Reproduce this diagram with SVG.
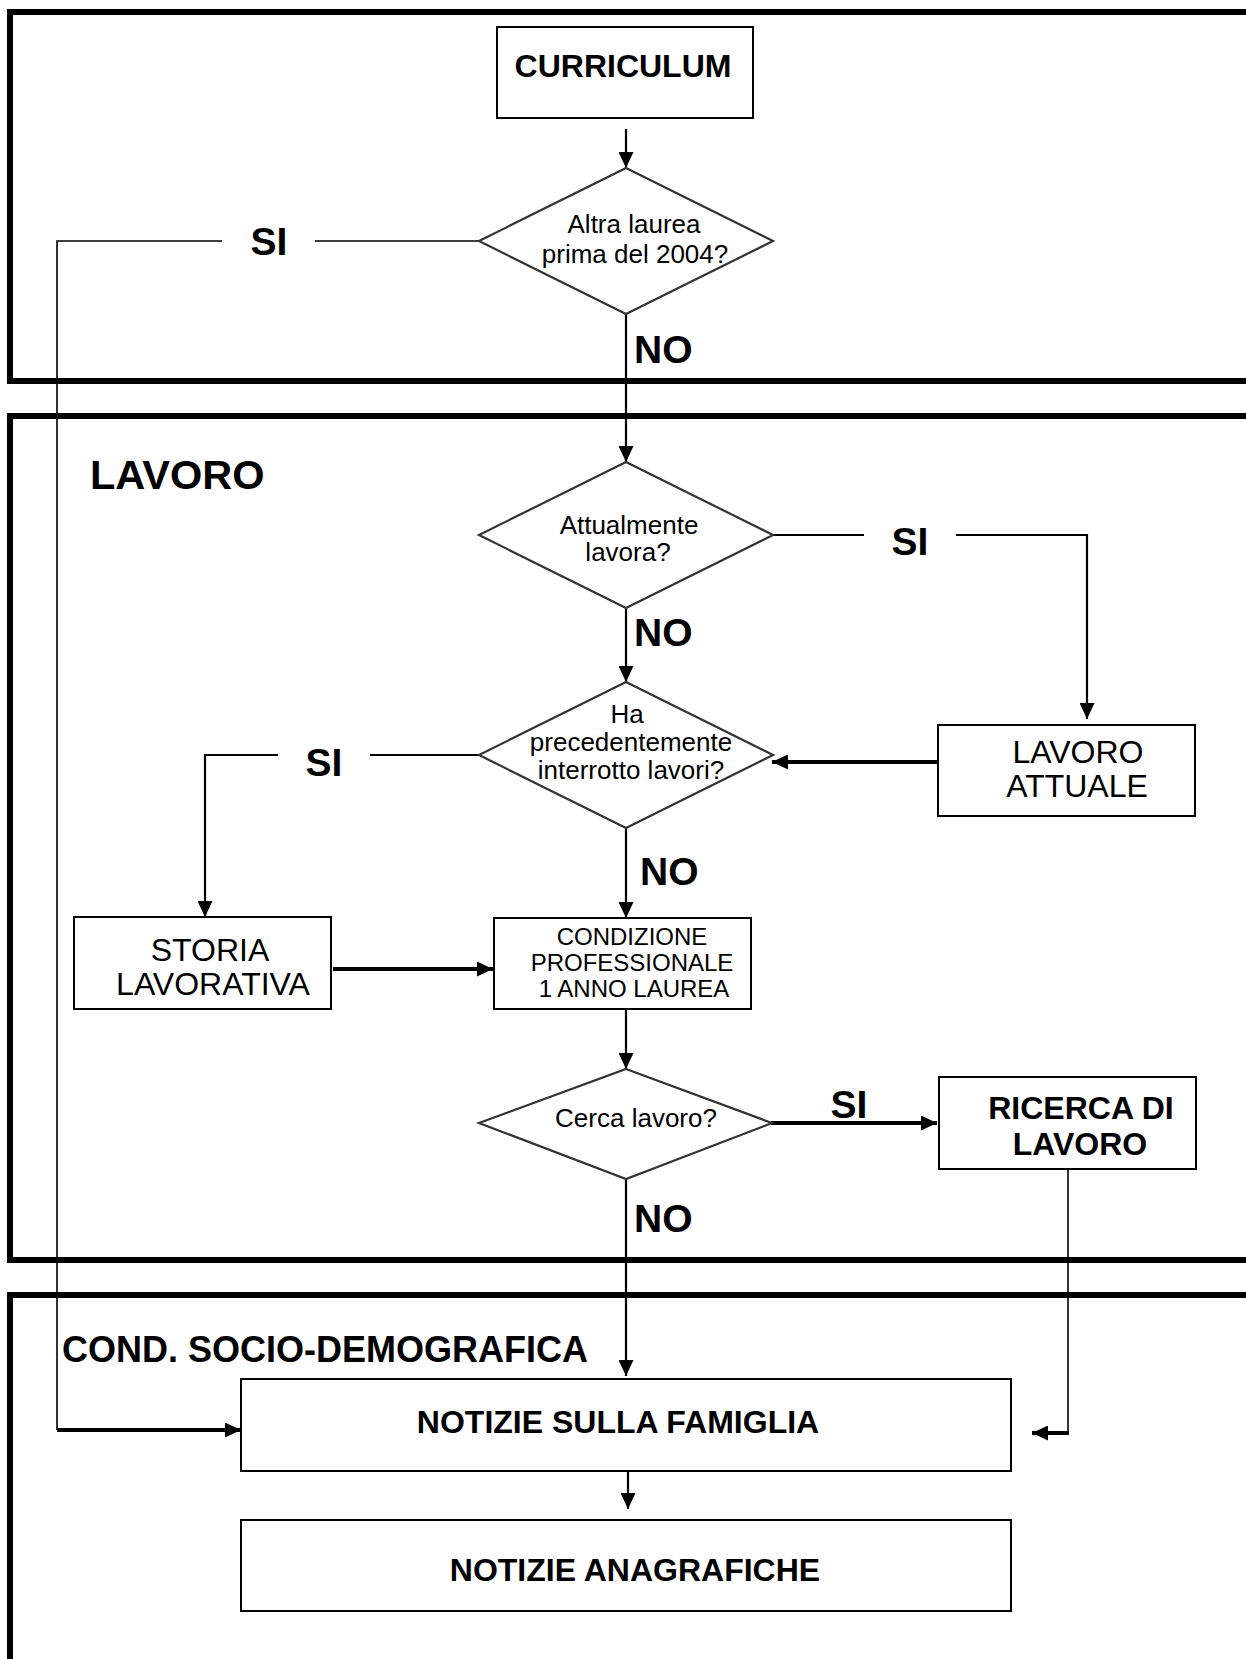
<svg xmlns="http://www.w3.org/2000/svg" width="1246" height="1659" viewBox="0 0 1246 1659">
<style>
text{font-family:"Liberation Sans",Arial,sans-serif;fill:#000}
.b{font-weight:bold}
.box{fill:#fff;stroke:#000;stroke-width:2}
.dia{fill:#fff;stroke:#333;stroke-width:2.2}
.panel{fill:none;stroke:#000;stroke-width:6}
.ln{fill:none;stroke:#000;stroke-width:2.2}
.thin{fill:none;stroke:#000;stroke-width:1.6}
.thick{fill:none;stroke:#000;stroke-width:4}
.lab{font-size:39px;font-weight:bold}
.q{font-size:26px;text-anchor:middle}
.t32{font-size:32px;text-anchor:middle}
.t24{font-size:24px;text-anchor:middle}
</style>
<defs>
<marker id="ah" markerUnits="userSpaceOnUse" markerWidth="16" markerHeight="15" refX="16" refY="7.5" orient="auto">
<path d="M0,0 L16,7.5 L0,15 z" fill="#000"/>
</marker>
</defs>
<g id="panels">
<path class="panel" d="M1246,12 H10 V381 H1246"/>
<path class="panel" d="M1246,416 H10 V1260 H1246"/>
<path class="panel" d="M1246,1295 H10 V1659"/>
<text class="b" x="90" y="489" font-size="41.5">LAVORO</text>
<text class="b" x="62" y="1362" font-size="36">COND. SOCIO-DEMOGRAFICA</text>
</g>
<g id="connectors">
<line class="ln" x1="626" y1="129" x2="626" y2="168" marker-end="url(#ah)"/>
<line class="ln" x1="626" y1="314" x2="626" y2="462" marker-end="url(#ah)"/>
<path class="thin" d="M479,241 H315"/>
<path class="thin" d="M222,241 H57 V1430"/>
<path class="thick" d="M57,1430 H241" marker-end="url(#ah)"/>
<path class="ln" d="M773,535 H864"/>
<path class="ln" d="M956,535 H1087 V719" marker-end="url(#ah)"/>
<line class="thick" x1="938" y1="762" x2="772" y2="762" marker-end="url(#ah)"/>
<line class="ln" x1="626" y1="608" x2="626" y2="682" marker-end="url(#ah)"/>
<path class="ln" d="M479,755 H370"/>
<path class="ln" d="M278,755 H205 V917" marker-end="url(#ah)"/>
<line class="ln" x1="626" y1="828" x2="626" y2="918" marker-end="url(#ah)"/>
<line class="thick" x1="333" y1="969" x2="493" y2="969" marker-end="url(#ah)"/>
<line class="ln" x1="626" y1="1010" x2="626" y2="1069" marker-end="url(#ah)"/>
<line class="thick" x1="771" y1="1123" x2="937" y2="1123" marker-end="url(#ah)"/>
<line class="ln" x1="626" y1="1179" x2="626" y2="1376" marker-end="url(#ah)"/>
<path class="thin" d="M1068,1169 V1433"/>
<path class="thick" d="M1069,1433 H1032" marker-end="url(#ah)"/>
<line class="ln" x1="628" y1="1472" x2="628" y2="1509" marker-end="url(#ah)"/>
<text class="lab" x="269" y="255" text-anchor="middle">SI</text>
<text class="lab" x="634" y="363">NO</text>
<text class="lab" x="910" y="555" text-anchor="middle">SI</text>
<text class="lab" x="634" y="646">NO</text>
<text class="lab" x="324" y="776" text-anchor="middle">SI</text>
<text class="lab" x="640" y="885">NO</text>
<text class="lab" x="849" y="1118" text-anchor="middle">SI</text>
<text class="lab" x="634" y="1232">NO</text>
</g>
<g id="curriculum">
<rect class="box" x="497" y="27" width="256" height="91"/>
<text class="t32 b" x="623" y="77">CURRICULUM</text>
</g>
<g id="altra-laurea">
<polygon class="dia" points="626,168 773,241 626,314 479,241"/>
<text class="q" x="634" y="233">Altra laurea</text>
<text class="q" x="635" y="263">prima del 2004?</text>
</g>
<g id="attualmente-lavora">
<polygon class="dia" points="626,462 773,535 626,608 479,535"/>
<text class="q" x="629" y="534">Attualmente</text>
<text class="q" x="628" y="561">lavora?</text>
</g>
<g id="interrotto-lavori">
<polygon class="dia" points="626,682 773,755 626,828 479,755"/>
<text class="q" x="627" y="723">Ha</text>
<text class="q" x="631" y="751">precedentemente</text>
<text class="q" x="631" y="779">interrotto lavori?</text>
</g>
<g id="lavoro-attuale">
<rect class="box" x="938" y="725" width="257" height="91"/>
<text class="t32" x="1078" y="763">LAVORO</text>
<text class="t32" x="1077" y="797">ATTUALE</text>
</g>
<g id="storia-lavorativa">
<rect class="box" x="74" y="917" width="257" height="92"/>
<text class="t32" x="210" y="961">STORIA</text>
<text class="t32" x="213" y="995">LAVORATIVA</text>
</g>
<g id="condizione-professionale">
<rect class="box" x="494" y="918" width="257" height="91"/>
<text class="t24" x="632" y="945">CONDIZIONE</text>
<text class="t24" x="632" y="971">PROFESSIONALE</text>
<text class="t24" x="634" y="997">1 ANNO LAUREA</text>
</g>
<g id="cerca-lavoro">
<polygon class="dia" points="626,1069 772,1123 626,1179 479,1123"/>
<text class="q" x="636" y="1127">Cerca lavoro?</text>
</g>
<g id="ricerca-di-lavoro">
<rect class="box" x="939" y="1077" width="257" height="92"/>
<text class="t32 b" x="1081" y="1119">RICERCA DI</text>
<text class="t32 b" x="1080" y="1155">LAVORO</text>
</g>
<g id="notizie-famiglia">
<rect class="box" x="241" y="1379" width="770" height="92"/>
<text class="t32 b" x="618" y="1433">NOTIZIE SULLA FAMIGLIA</text>
</g>
<g id="notizie-anagrafiche">
<rect class="box" x="241" y="1520" width="770" height="91"/>
<text class="t32 b" x="635" y="1581">NOTIZIE ANAGRAFICHE</text>
</g>
</svg>
